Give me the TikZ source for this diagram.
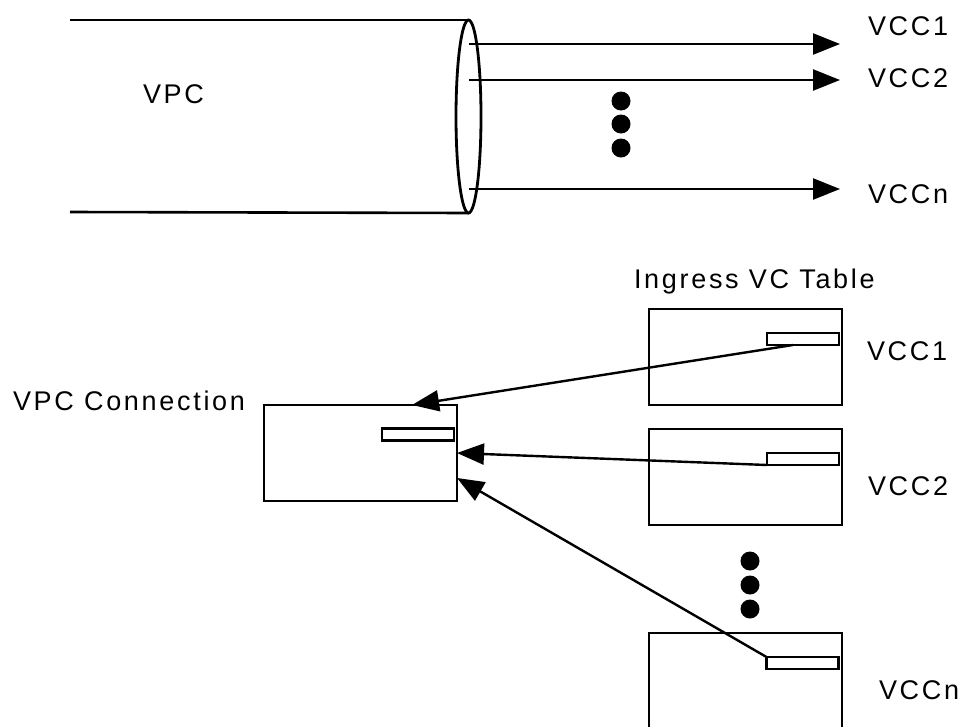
\documentclass[tikz,border=0pt]{standalone}
\usepackage{fontspec}
\setmainfont{Liberation Sans}[LetterSpace=10]
\usetikzlibrary{arrows.meta,calc,shapes.geometric}
\begin{document}
\begin{tikzpicture}[x=1pt,y=-1pt,
  every node/.style={inner sep=0pt,outer sep=0pt},
  lbl/.style={anchor=base west,font=\fontsize{27}{30}\selectfont},
  tbl/.style={draw,line width=2.6pt,rectangle,minimum width=193pt,minimum height=96pt},
  slot/.style={draw,line width=2.6pt,rectangle,minimum width=72pt,minimum height=12pt},
  ln/.style={line width=2.6pt},
  arr/.style={line width=2.4pt,-{Triangle[length=27pt,width=21pt]}},
  dot/.style={fill=black,circle,minimum size=19pt}]
\useasboundingbox (0,0) rectangle (964,726);
% cylinder
\node[draw,ellipse,line width=2.8pt,minimum width=25pt,minimum height=193pt] (end) at (468.5,116.5) {};
\coordinate (tl) at (70,20);
\coordinate (bl) at (70,212);
\draw[ln] (tl) -- (end.north);
\draw[ln] (bl) -- (end.south);
\node[lbl] (vpc) at (143,103) {VPC};
% outgoing channels
\coordinate (s1) at (469,44);
\coordinate (s2) at (469,80);
\coordinate (sn) at (469,189);
\coordinate (e1) at (840,44);
\coordinate (e2) at (840,80);
\coordinate (en) at (840,189);
\draw[arr] (s1) -- (e1);
\draw[arr] (s2) -- (e2);
\draw[arr] (sn) -- (en);
\node[lbl] (t1) at (868,35) {VCC1};
\node[lbl] (t2) at (868,87) {VCC2};
\node[lbl] (tn) at (868,203) {VCCn};
\node[dot] (d1) at (621,101) {};
\node[dot] (d2) at (621,124) {};
\node[dot] (d3) at (621,148) {};
% lower part
\node[lbl] (ing) at (634,288) {Ingress VC Table};
\node[tbl] (b1) at (745.5,357) {};
\node[tbl] (b2) at (745.5,477) {};
\node[slot] (k1) at (803,339) {};
\node[slot] (k2) at (803,459) {};
\node[slot] (kn) at (802.5,663) {};
\draw[line width=2.6pt] (649,730) -- (649,633) -- (842,633) -- (842,730);
\node[lbl] (v1) at (867,360) {VCC1};
\node[lbl] (v2) at (868,495) {VCC2};
\node[lbl] (vn) at (879,699) {VCCn};
\node[dot] (f1) at (750,561) {};
\node[dot] (f2) at (750,585) {};
\node[dot] (f3) at (750,609) {};
\node[tbl] (vc) at (360.5,453) {};
\node[slot] (ks) at (418,434.5) {};
\node[lbl] (vcl) at (13,410) {VPC Connection};
\draw[arr] ($(k1.south west)!0.36!(k1.south east)$) -- ($(vc.north west)!0.767!(vc.north east)$);
\draw[arr] (k2.south west) -- (vc.east);
\draw[arr] (kn.north west) -- ($(vc.north east)!0.76!(vc.south east)$);
\end{tikzpicture}
\end{document}
